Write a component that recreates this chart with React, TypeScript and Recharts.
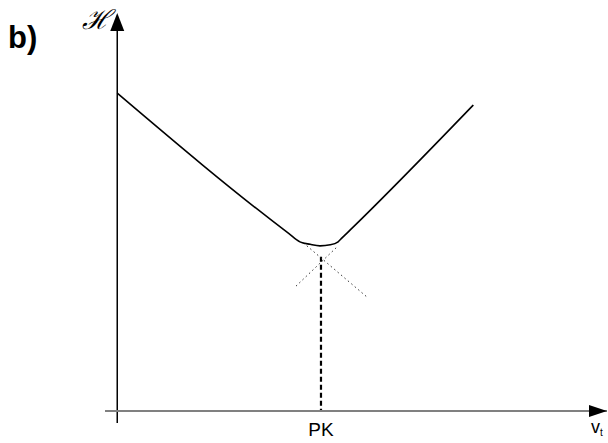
import React from 'react';
import {
    ComposedChart,
    Line,
    XAxis,
    YAxis,
    ReferenceLine,
    ReferenceDot,
} from 'recharts';

// main curve: two straight branches joined by a rounded minimum
const curveX = [0, 3.5, 3.73, 3.94, 4.14, 4.35, 4.51, 4.59, 4.8, 7.27];
const curveY = [6.39, 3.57, 3.4, 3.35, 3.32, 3.34, 3.4, 3.48, 3.68, 6.15];

// dotted continuations of both branches past the corner
const leftTangentX = [3.8, 5.1];
const leftTangentY = [3.38, 2.29];
const rightTangentX = [3.65, 4.49];
const rightTangentY = [2.51, 3.3];

// the point where the branches would meet
const pkValue = 4.16;
const pkTop = 3.1;
const pkLabel = 'PK';

const toRows = (xs: number[], ys: number[]) => xs.map((x, i) => ({ x, y: ys[i] }));

const curveData = toRows(curveX, curveY);
const leftTangent = toRows(leftTangentX, leftTangentY);
const rightTangent = toRows(rightTangentX, rightTangentY);

const FONT = '"Liberation Sans", Arial, sans-serif';

const UpArrow = (p: any) => (
    <path d={`M${p.cx},${p.cy} L${p.cx - 7},${p.cy + 18} L${p.cx + 7},${p.cy + 18} Z`} fill="#000" />
);

const RightArrow = (p: any) => (
    <path d={`M${p.cx},${p.cy} L${p.cx - 18},${p.cy - 6} L${p.cx - 18},${p.cy + 6} Z`} fill="#000" />
);

const App = () => {
    return (
        <div style={{ position: 'absolute', left: 0, top: 0, width: 608, height: 443, background: '#fff' }}>
            <ComposedChart
                width={608}
                height={443}
                margin={{ top: 13, right: 1, left: 105, bottom: 0 }}
            >
                <XAxis
                    type="number"
                    dataKey="x"
                    domain={[-0.25, 10]}
                    ticks={[pkValue]}
                    tickFormatter={() => pkLabel}
                    tickLine={false}
                    tickMargin={6}
                    height={32}
                    axisLine={{ stroke: '#808080', strokeWidth: 2 }}
                    tick={{ fill: '#000', fontSize: 19, fontFamily: FONT }}
                    allowDataOverflow
                />
                <YAxis type="number" dataKey="y" domain={[0, 8]} hide allowDataOverflow />

                <ReferenceLine
                    segment={[{ x: 0, y: -0.24 }, { x: 0, y: 7.7 }]}
                    stroke="#000"
                    strokeWidth={1.5}
                    ifOverflow="visible"
                />
                <ReferenceLine
                    segment={[{ x: pkValue, y: pkTop }, { x: pkValue, y: 0 }]}
                    stroke="#000"
                    strokeWidth={2.2}
                    strokeDasharray="5 3"
                    ifOverflow="visible"
                />

                <Line
                    data={leftTangent}
                    dataKey="y"
                    type="linear"
                    stroke="#333"
                    strokeWidth={1}
                    strokeDasharray="1.5 3"
                    dot={false}
                    isAnimationActive={false}
                />
                <Line
                    data={rightTangent}
                    dataKey="y"
                    type="linear"
                    stroke="#333"
                    strokeWidth={1}
                    strokeDasharray="1.5 3"
                    dot={false}
                    isAnimationActive={false}
                />
                <Line
                    data={curveData}
                    dataKey="y"
                    type="monotone"
                    stroke="#000"
                    strokeWidth={1.6}
                    dot={false}
                    isAnimationActive={false}
                />

                <ReferenceDot x={0} y={8} r={0} shape={UpArrow} ifOverflow="visible" />
                <ReferenceDot x={10} y={0} r={0} shape={RightArrow} ifOverflow="visible" />
            </ComposedChart>

            <div style={{ position: 'absolute', left: 8, top: 18, fontFamily: FONT, fontWeight: 'bold', fontSize: 31, lineHeight: '40px' }}>
                b)
            </div>
            <div style={{ position: 'absolute', left: 82, top: 3, fontFamily: '"DejaVu Serif", serif', fontStyle: 'italic', fontSize: 27, lineHeight: '34px' }}>
                ℋ
            </div>
            <div style={{ position: 'absolute', left: 591, top: 416, fontFamily: FONT, fontSize: 18, lineHeight: '22px' }}>
                v<span style={{ fontSize: 10, verticalAlign: '-3px' }}>t</span>
            </div>
        </div>
    );
};

export default App;
